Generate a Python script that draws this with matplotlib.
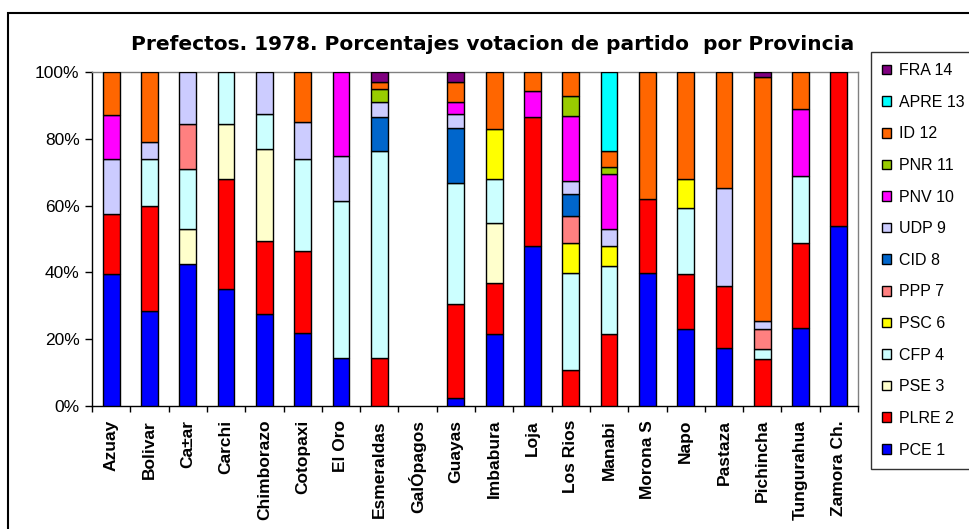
import numpy as np
import matplotlib
matplotlib.use("Agg")
import matplotlib.pyplot as plt
from matplotlib.patches import Patch, Rectangle

plt.rcParams['font.family'] = ['Liberation Sans', 'DejaVu Sans']

provinces = ["Azuay", "Bolivar", "Ca±ar", "Carchi", "Chimborazo", "Cotopaxi", "El Oro",
             "Esmeraldas", "GalÓpagos", "Guayas", "Imbabura", "Loja", "Los Rios", "Manabi",
             "Morona S", "Napo", "Pastaza", "Pichincha", "Tungurahua", "Zamora Ch."]

PCE  = [39.4, 28.4, 42.4, 35.0, 27.4, 21.9, 14.4, 0, 0, 2.4, 21.5, 47.9, 0, 0, 39.9, 23.0, 17.5, 0, 23.5, 53.9]
PLRE = [18.1, 31.6, 0, 32.9, 22.0, 24.5, 0, 14.4, 0, 28.0, 15.4, 38.5, 10.9, 21.5, 22.0, 16.4, 18.4, 14.0, 25.4, 46.1]
PSE  = [0, 0, 10.5, 16.5, 27.5, 0, 0, 0, 0, 0, 18.0, 0, 0, 0, 0, 0, 0, 0, 0, 0]
CFP  = [0, 14.0, 18.1, 15.6, 10.5, 27.6, 46.9, 62.0, 0, 36.5, 13.0, 0, 28.9, 20.4, 0, 20.0, 0, 3.0, 20.1, 0]
PSC  = [0, 0, 0, 0, 0, 0, 0, 0, 0, 0, 15.0, 0, 9.1, 6.0, 0, 8.5, 0, 0, 0, 0]
PPP  = [0, 0, 13.4, 0, 0, 0, 0, 0, 0, 0, 0, 0, 8.0, 0, 0, 0, 0, 6.0, 0, 0]
CID  = [0, 0, 0, 0, 0, 0, 0, 10.0, 0, 16.4, 0, 0, 6.5, 0, 0, 0, 0, 0, 0, 0]
UDP  = [16.5, 5.0, 15.6, 0, 12.6, 10.9, 13.6, 4.6, 0, 4.1, 0, 0, 4.0, 5.0, 0, 0, 29.5, 2.5, 0, 0]
PNV  = [13.0, 0, 0, 0, 0, 0, 25.1, 0, 0, 3.5, 0, 8.0, 19.5, 16.5, 0, 0, 0, 0, 19.9, 0]
PNR  = [0, 0, 0, 0, 0, 0, 0, 3.9, 0, 0, 0, 0, 6.0, 2.1, 0, 0, 0, 0, 0, 0]
ID   = [13.0, 21.0, 0, 0, 0, 15.1, 0, 2.0, 0, 6.1, 17.1, 5.6, 7.1, 4.9, 38.1, 32.1, 34.6, 72.9, 11.1, 0]
APRE = [0, 0, 0, 0, 0, 0, 0, 0, 0, 0, 0, 0, 0, 23.6, 0, 0, 0, 0, 0, 0]
FRA  = [0, 0, 0, 0, 0, 0, 0, 3.1, 0, 3.0, 0, 0, 0, 0, 0, 0, 0, 1.6, 0, 0]

series_labels = ["PCE 1", "PLRE 2", "PSE 3", "CFP 4", "PSC 6", "PPP 7", "CID 8",
                 "UDP 9", "PNV 10", "PNR 11", "ID 12", "APRE 13", "FRA 14"]
series_values = [PCE, PLRE, PSE, CFP, PSC, PPP, CID, UDP, PNV, PNR, ID, APRE, FRA]
colors = ["#0000FF", "#FF0000", "#FFFFCC", "#CCFFFF", "#FFFF00", "#FF8080", "#0066CC",
          "#CCCCFF", "#FF00FF", "#99CC00", "#FF6600", "#00FFFF", "#800080"]

W, H = 969, 529
fig = plt.figure(figsize=(W / 100, H / 100), dpi=100)
ax = fig.add_axes([92 / W, 1 - 406 / H, (858 - 92) / W, (406 - 72) / H])

data = np.array(series_values, dtype=float)
totals = data.sum(axis=0)
pct = np.divide(data, totals, out=np.zeros_like(data), where=totals > 0) * 100
x = np.arange(len(provinces))
bottom = np.zeros(len(provinces))
for vals, col in zip(pct, colors):
    m = vals > 0
    ax.bar(x[m], vals[m], bottom=bottom[m], width=0.44, color=col,
           edgecolor="black", linewidth=1.0, zorder=3)
    bottom += vals

ax.set_xlim(-0.5, len(provinces) - 0.5)
ax.set_ylim(0, 100)
ax.set_yticks(np.arange(0, 101, 20))
ax.set_yticklabels([f"{v}%" for v in range(0, 101, 20)], fontsize=12.5)
ax.tick_params(axis="y", direction="out", length=5, width=1, pad=4)
ax.set_xticks(x)
ax.set_xticklabels(provinces, rotation=90, fontsize=12.5, fontweight="bold")
ax.set_xticks(np.arange(-0.5, len(provinces), 1), minor=True)
ax.tick_params(axis="x", which="major", length=0, pad=10)
ax.tick_params(axis="x", which="minor", direction="out", length=4, width=1)

for s in ["top", "right"]:
    ax.spines[s].set_color("#808080")
    ax.spines[s].set_linewidth(1)
for s in ["left", "bottom"]:
    ax.spines[s].set_color("black")
    ax.spines[s].set_linewidth(1)

fig.text(493 / W, 1 - 44 / H, "Prefectos. 1978. Porcentajes votacion de partido  por Provincia",
         ha="center", va="center", fontsize=14.5, fontweight="bold", family="DejaVu Sans")

handles = [Patch(facecolor=c, edgecolor="black", linewidth=1) for c in colors][::-1]
leg = fig.legend(handles, series_labels[::-1], loc="upper left",
                 bbox_to_anchor=(871 / W, 1 - 52 / H), borderaxespad=0,
                 fontsize=11.5, frameon=True, fancybox=False, shadow=False,
                 handlelength=0.55, handleheight=0.55, handletextpad=0.5,
                 labelspacing=1.04, borderpad=0.7)
leg.get_frame().set_edgecolor("black")
leg.get_frame().set_linewidth(1)

# outer frame of the pasted chart
fig.patches.append(Rectangle((8 / W, -0.1), 1.2, 1 - 13 / H + 0.1, transform=fig.transFigure,
                             fill=False, edgecolor="black", linewidth=1.5))

fig.savefig("out.png", dpi=100)
